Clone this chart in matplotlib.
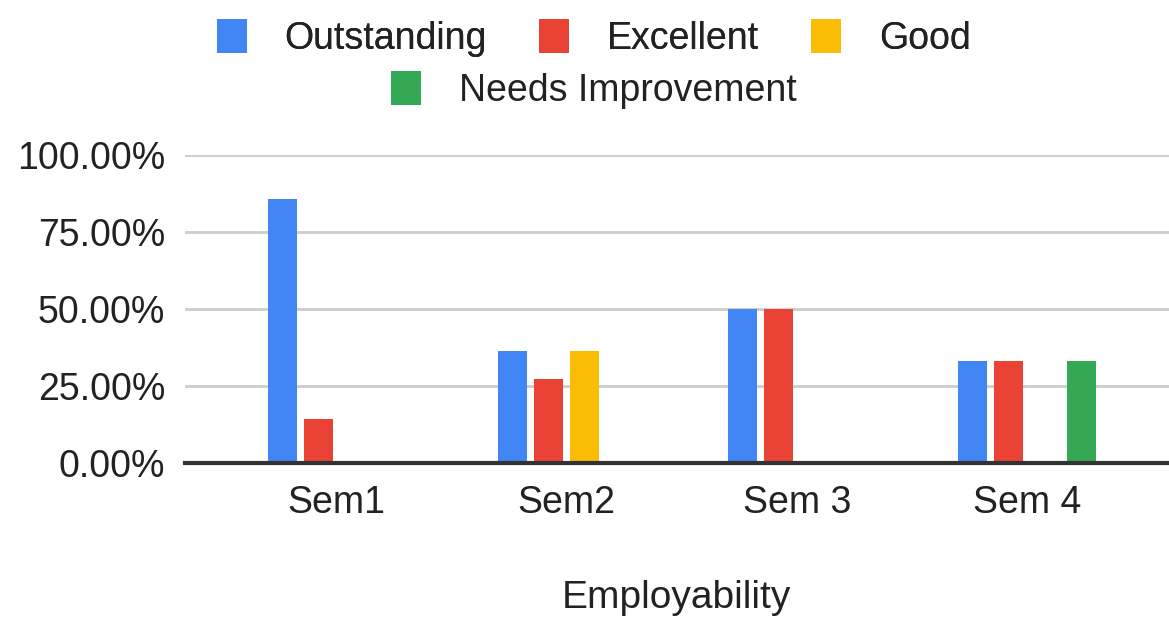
import numpy as np
import matplotlib.pyplot as plt

plt.rcParams['font.family'] = ['Liberation Sans', 'DejaVu Sans']

semesters = ['Sem1', 'Sem2', 'Sem 3', 'Sem 4']
series = ['Outstanding', 'Excellent', 'Good', 'Needs Improvement']
outstanding = [85.71, 36.36, 50.0, 33.33]
excellent = [14.29, 27.27, 50.0, 33.33]
good = [0.0, 36.36, 0.0, 0.0]
needs_improvement = [0.0, 0.0, 0.0, 33.33]
colors = ['#4285F4', '#EA4335', '#FBBC04', '#34A853']

values = [outstanding, excellent, good, needs_improvement]

fig = plt.figure(figsize=(11.69, 6.2), dpi=100)
ax = fig.add_axes([0.158, 0.2532, 0.842, 0.4960])

x = np.arange(len(semesters))
step = 0.1565
width = 0.126
handles = []
for i, (name, vals, col) in enumerate(zip(series, values, colors)):
    b = ax.bar(x + (i - 1.5) * step, vals, width, color=col, label=name, zorder=3)
    handles.append(b)

ax.set_ylim(0, 100)
ax.set_xlim(-0.66, 3.617)
ax.set_yticks([0, 25, 50, 75, 100])
ax.set_yticklabels(['0.00%', '25.00%', '50.00%', '75.00%', '100.00%'])
ax.set_xticks(x)
ax.set_xticklabels(semesters)
ax.tick_params(axis='both', length=0, labelsize=27, labelcolor='#222222')
ax.tick_params(axis='y', pad=14)
ax.tick_params(axis='x', pad=16)
ax.grid(axis='y', color='#cccccc', linewidth=2, zorder=0)
for s in ['top', 'right', 'left']:
    ax.spines[s].set_visible(False)
ax.spines['bottom'].set_color('#333333')
ax.spines['bottom'].set_linewidth(3)
ax.spines['bottom'].set_zorder(4)

ax.set_xlabel('Employability', fontsize=28, color='#222222', labelpad=42)

leg_kw = dict(frameon=False, fontsize=27, handlelength=0.8, handleheight=1.0,
              handletextpad=1.0, columnspacing=1.4, labelcolor='#222222')
leg1 = fig.legend(handles[:3], series[:3], loc='center', ncol=3,
                  bbox_to_anchor=(0.508, 0.939), **leg_kw)
fig.add_artist(leg1)
fig.legend(handles[3:], series[3:], loc='center', ncol=1,
           bbox_to_anchor=(0.508, 0.855), **leg_kw)

fig.savefig('out.png', dpi=100)
